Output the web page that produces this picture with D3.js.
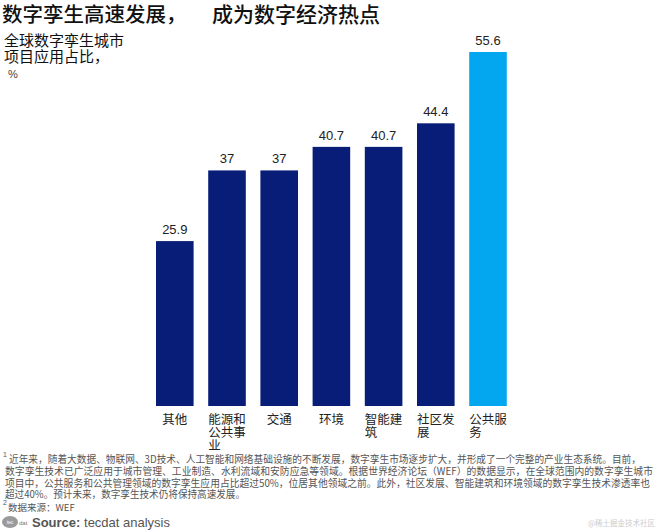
<!DOCTYPE html>
<html><head><meta charset="utf-8">
<script src="https://cdn.jsdelivr.net/npm/d3@7"></script>
<style>
html,body{margin:0;padding:0;background:#fff;}
svg{display:block;}
</style></head>
<body>
<script>
const categories = ["其他","能源和公共事业","交通","环境","智能建筑","社区发展","公共服务"];
const values = [25.9, 37, 37, 40.7, 40.7, 44.4, 55.6];
const highlight = ["公共服务"];
const titleParts = ["数字孪生高速发展，", "成为数字经济热点"];
const subtitleLines = ["全球数字孪生城市", "项目应用占比，"];
const unitLabel = "%";
const footnoteLines = [
  "近年来，随着大数据、物联网、3D技术、人工智能和网络基础设施的不断发展，数字孪生市场逐步扩大，并形成了一个完整的产业生态系统。目前，",
  "数字孪生技术已广泛应用于城市管理、工业制造、水利流域和安防应急等领域。根据世界经济论坛（WEF）的数据显示，在全球范围内的数字孪生城市",
  "项目中，公共服务和公共管理领域的数字孪生应用占比超过50%，位居其他领域之前。此外，社区发展、智能建筑和环境领域的数字孪生技术渗透率也",
  "超过40%。预计未来，数字孪生技术仍将保持高速发展。"
];
const footnoteWidths = [632, 648, 645, 240];
const sourceNote = "数据来源：WEF";

const W = 660, H = 531;
const svg = d3.select("body").append("svg").attr("width", W).attr("height", H);
const cjk = "'Noto Sans CJK SC','Noto Sans',sans-serif";
const latin = "'Liberation Sans',Arial,sans-serif";

// Title
svg.append("text").attr("x", 2).attr("y", 22).attr("font-family", cjk).attr("font-size", 20.5)
  .attr("font-weight", 500).attr("fill", "#111").text(titleParts[0]);
svg.append("text").attr("x", 212).attr("y", 22).attr("font-family", cjk).attr("font-size", 21)
  .attr("font-weight", 500).attr("fill", "#111").text(titleParts[1]);

// Subtitle
subtitleLines.forEach((t, i) => {
  svg.append("text").attr("x", 4).attr("y", 46 + i * 15.5).attr("font-family", cjk)
    .attr("font-size", 15).attr("fill", "#111").text(t);
});
svg.append("text").attr("x", 8).attr("y", 78).attr("font-family", latin)
  .attr("font-size", 11).attr("fill", "#444").text(unitLabel);

// Scales
const x = d3.scaleBand().domain(categories).range([148.7, 514.1]).paddingInner(0.28).paddingOuter(0.14);
const y = d3.scaleLinear().domain([0, 55.6]).range([406, 52]);

svg.append("g").selectAll("rect").data(categories).join("rect")
  .attr("x", d => x(d)).attr("width", x.bandwidth())
  .attr("y", (d, i) => y(values[i])).attr("height", (d, i) => y(0) - y(values[i]))
  .attr("fill", d => highlight.includes(d) ? "#02a7f0" : "#071d78");

svg.append("g").selectAll("text").data(categories).join("text")
  .attr("x", d => x(d) + x.bandwidth() / 2).attr("y", (d, i) => y(values[i]) - 7)
  .attr("text-anchor", "middle").attr("font-family", latin).attr("font-size", 13)
  .attr("fill", "#222").text((d, i) => values[i]);

// Category labels (wrap at 3 chars, left aligned block centered on bar)
const fs = 12.5;
categories.forEach(c => {
  const lines = [];
  for (let i = 0; i < c.length; i += 3) lines.push(c.slice(i, i + 3));
  const bw = Math.max(...lines.map(l => l.length)) * fs;
  const x0 = x(c) + x.bandwidth() / 2 - bw / 2;
  lines.forEach((l, i) => {
    svg.append("text").attr("x", x0).attr("y", 424 + i * 13).attr("font-family", cjk)
      .attr("font-size", fs).attr("fill", "#222").text(l);
  });
});

// Footnotes
footnoteLines.forEach((t, i) => {
  svg.append("text").attr("x", i === 0 ? 9 : 5).attr("y", 463 + i * 11.8)
    .attr("font-family", cjk).attr("font-size", 10).attr("fill", "#555")
    .attr("textLength", footnoteWidths[i]).attr("lengthAdjust", "spacingAndGlyphs").text(t);
});
svg.append("text").attr("x", 3).attr("y", 457).attr("font-family", latin).attr("font-size", 7)
  .attr("fill", "#555").text("1");
svg.append("text").attr("x", 3).attr("y", 505).attr("font-family", latin).attr("font-size", 7)
  .attr("fill", "#555").text("2");
svg.append("text").attr("x", 8).attr("y", 511).attr("font-family", cjk).attr("font-size", 9.5)
  .attr("fill", "#555").text(sourceNote);

// Source line with logo
svg.append("ellipse").attr("cx", 10).attr("cy", 522).attr("rx", 8).attr("ry", 6).attr("fill", "#9a9a9a");
svg.append("text").attr("x", 10).attr("y", 524).attr("text-anchor", "middle").attr("font-family", latin)
  .attr("font-size", 5).attr("fill", "#fff").text("tec");
svg.append("text").attr("x", 19).attr("y", 525).attr("font-family", latin)
  .attr("font-size", 6).attr("fill", "#777").text("dat");
const src = svg.append("text").attr("x", 32).attr("y", 527).attr("font-family", latin)
  .attr("font-size", 13).attr("fill", "#555");
src.append("tspan").attr("font-weight", "bold").text("Source:");
src.append("tspan").text(" tecdat analysis");

// Watermark
svg.append("text").attr("x", 655).attr("y", 526).attr("text-anchor", "end").attr("font-family", cjk)
  .attr("font-size", 7.5).attr("fill", "#ccc").text("@稀土掘金技术社区");
</script>
</body></html>
